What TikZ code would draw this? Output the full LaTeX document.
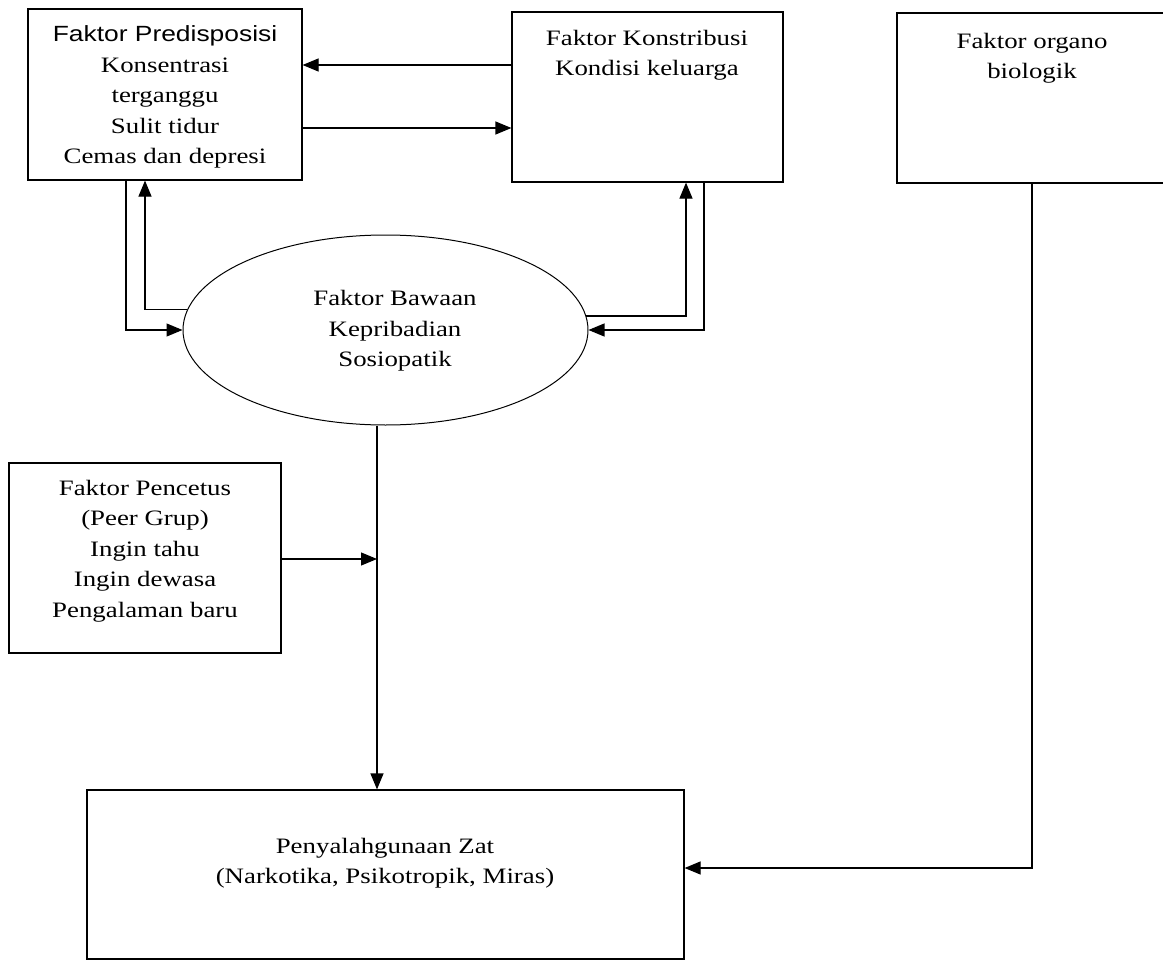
\documentclass[tikz,border=0pt]{standalone}
\usepackage{fontspec}
\setmainfont{Liberation Serif}[FakeStretch=1.22]
\newfontfamily\arialf{Liberation Sans}[FakeStretch=1.2]
\usetikzlibrary{arrows.meta,shapes.geometric}
\tikzset{
  boxshape/.style={draw, line width=1.2pt, rectangle, inner sep=0pt},
  ellshape/.style={draw, line width=1pt, ellipse, inner sep=0pt},
  txt/.style={align=center, inner sep=0pt, font=\fontsize{22pt}{30.5pt}\selectfont},
  arr/.style={line width=1.2pt, -{Triangle[length=16pt,width=13pt]}},
  ln/.style={line width=1.2pt}
}
\begin{document}
\begin{tikzpicture}[x=1pt,y=-1pt]
\clip (0,0) rectangle (1163,961);
\fill[white] (0,0) rectangle (1163,961);
% boxes
\node[boxshape, minimum width=274pt, minimum height=171pt] (b1) at (165,94.5) {};
\node[boxshape, minimum width=271pt, minimum height=170pt] (b2) at (647.5,97) {};
\node[boxshape, minimum width=271pt, minimum height=170pt] (b3) at (1032.5,98) {};
\node[boxshape, minimum width=272pt, minimum height=190pt] (b4) at (145,558) {};
\node[boxshape, minimum width=597pt, minimum height=169pt] (b5) at (385.5,874.5) {};
\node[ellshape, minimum width=405pt, minimum height=190pt] (ell) at (385.5,330) {};
% texts
\node[txt] (t1) at (165,97) {{\arialf Faktor Predisposisi}\\Konsentrasi\\terganggu\\Sulit tidur\\Cemas dan depresi};
\node[txt] (t2) at (647,55) {Faktor Konstribusi\\Kondisi keluarga};
\node[txt] (t3) at (1032,58) {Faktor organo\\biologik};
\node[txt] (t4) at (145,551) {Faktor Pencetus\\(Peer Grup)\\Ingin tahu\\Ingin dewasa\\Pengalaman baru};
\node[txt] (t5) at (385,863) {Penyalahgunaan Zat\\(Narkotika, Psikotropik, Miras)};
\node[txt] (te) at (395,331) {Faktor Bawaan\\Kepribadian\\Sosiopatik};
% connectors box1 <-> box2
\draw[arr] (b2.west |- 0,65) -- (b1.east |- 0,65);
\draw[arr] (b1.east |- 0,128) -- (b2.west |- 0,128);
% box1 <-> ellipse
\draw[arr] (b1.south -| 126,0) |- (ell.west);
\draw[arr] (ell.174.5) -| (b1.south -| 145,0);
% box2 <-> ellipse
\draw[arr] (ell.4.9) -| (b2.south -| 686,0);
\draw[arr] (b2.south -| 704,0) |- (ell.east);
% ellipse -> box5
\draw[arr] (ell.south -| 377,0) -- (b5.north -| 377,0);
% box4 -> main line
\coordinate (j) at (377,559);
\draw[arr] (b4.east |- j) -- (j);
% box3 -> box5
\draw[arr] (b3.south -| 1032,0) |- (b5.east |- 0,868);
\end{tikzpicture}
\end{document}
